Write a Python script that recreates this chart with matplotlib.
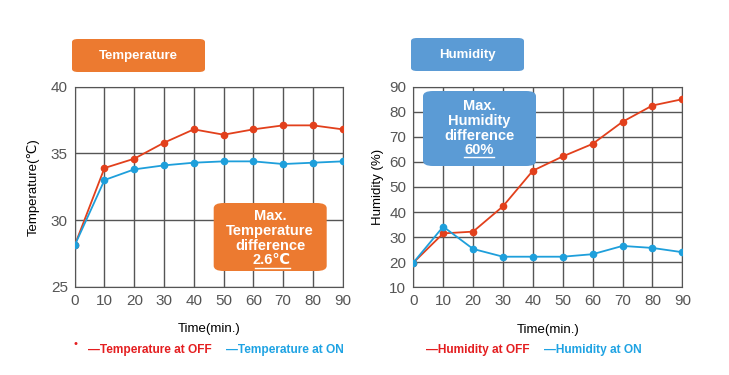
import matplotlib.pyplot as plt
from matplotlib.patches import FancyBboxPatch

plt.rcParams['font.family'] = ['Liberation Sans', 'DejaVu Sans']

# data
time_min = [0, 10, 20, 30, 40, 50, 60, 70, 80, 90]
temp_off = [28.1, 33.9, 34.6, 35.8, 36.8, 36.4, 36.8, 37.1, 37.1, 36.8]
temp_on = [28.1, 33.0, 33.8, 34.1, 34.3, 34.4, 34.4, 34.2, 34.3, 34.4]
hum_off = [19.8, 31.5, 32.2, 42.3, 56.5, 62.2, 67.2, 76.0, 82.5, 85.0]
hum_on = [19.8, 34.2, 25.3, 22.2, 22.2, 22.2, 23.2, 26.5, 25.7, 24.0]

RED = '#e2401c'
BLUE = '#1e9fdb'
LEG_RED = '#e41e20'
LEG_BLUE = '#1fa3e3'
ORANGE = '#ec7a30'
SKY = '#5b9bd5'
W, H = 729, 375

fig = plt.figure(figsize=(W / 100, H / 100), dpi=100)


def px_axes(x0, y0, x1, y1):
    return fig.add_axes([x0 / W, 1 - y1 / H, (x1 - x0) / W, (y1 - y0) / H])


def box(x0, y0, x1, y1, color, pad=6):
    p = FancyBboxPatch((x0 / W, 1 - y1 / H), (x1 - x0) / W, (y1 - y0) / H,
                       boxstyle=f"round,pad=0,rounding_size={pad / W}",
                       transform=fig.transFigure, facecolor=color,
                       edgecolor='none', zorder=5)
    fig.add_artist(p)


def ftext(x, y, s, **kw):
    return fig.text(x / W, 1 - y / H, s, **kw)


def hline(x0, x1, y):
    fig.add_artist(plt.Line2D([x0 / W, x1 / W], [1 - y / H, 1 - y / H],
                              color='white', lw=1, transform=fig.transFigure, zorder=6))


def style(ax, ylim, yticks):
    ax.set_xlim(0, 90)
    ax.set_ylim(*ylim)
    ax.set_xticks(time_min)
    ax.set_yticks(yticks)
    ax.grid(True, color='#555555', linewidth=1.0)
    ax.set_axisbelow(True)
    for s in ax.spines.values():
        s.set_color('#555555')
    ax.tick_params(length=0, labelsize=11, colors='#555555', pad=5)
    ax.set_xlabel('Time(min.)', fontsize=9.5, labelpad=11)


# temperature panel
ax1 = px_axes(74.7, 86.7, 342.7, 286.7)
ax1.plot(time_min, temp_off, color=RED, lw=1.3, marker='o', ms=4.5, zorder=3)
ax1.plot(time_min, temp_on, color=BLUE, lw=1.3, marker='o', ms=4.5, zorder=3)
style(ax1, (25, 40), [25, 30, 35, 40])
ax1.set_ylabel('Temperature(℃)', fontsize=9.5, labelpad=8)

# humidity panel
ax2 = px_axes(413.3, 86.7, 682.3, 287.3)
ax2.plot(time_min, hum_off, color=RED, lw=1.3, marker='o', ms=4.5, zorder=3)
ax2.plot(time_min, hum_on, color=BLUE, lw=1.3, marker='o', ms=4.5, zorder=3)
style(ax2, (10, 90), list(range(10, 91, 10)))
ax2.set_ylabel('Humidity (%)', fontsize=9.5, labelpad=4)

# header boxes
box(72, 39, 205, 72, ORANGE)
ftext(138.5, 55.5, 'Temperature', color='white', fontsize=9.5,
      fontweight='bold', ha='center', va='center', zorder=6)
box(411, 38, 524, 71, SKY)
ftext(467.5, 55, 'Humidity', color='white', fontsize=9.5,
      fontweight='bold', ha='center', va='center', zorder=6)

# note boxes
box(213.7, 203, 326.7, 271, ORANGE, pad=10)
ftext(270, 231, 'Max.\nTemperature\ndifference', color='white',
      fontsize=10.5, fontweight='bold', ha='center', va='center',
      linespacing=1.08, zorder=6)
ftext(272, 260, '2.6℃', color='white', fontsize=10.5,
      fontweight='bold', ha='center', va='center', zorder=6)
hline(255, 290, 267.5)

box(423, 91, 536, 166, SKY, pad=10)
ftext(479.5, 121, 'Max.\nHumidity\ndifference', color='white',
      fontsize=10.5, fontweight='bold', ha='center', va='center',
      linespacing=1.08, zorder=6)
ftext(479.5, 149.5, '60%', color='white', fontsize=10.5,
      fontweight='bold', ha='center', va='center', zorder=6)
hline(464, 494, 156.5)

# legends
ly = 349.5
ftext(76, 344, '•', color=LEG_RED, fontsize=8, ha='center', va='center')
ftext(88, ly, '—Temperature at OFF', color=LEG_RED, fontsize=8.6,
      fontweight='bold', va='center')
ftext(226, ly, '—Temperature at ON', color=LEG_BLUE, fontsize=8.6,
      fontweight='bold', va='center')
ftext(426, ly, '—Humidity at OFF', color=LEG_RED, fontsize=8.6,
      fontweight='bold', va='center')
ftext(544, ly, '—Humidity at ON', color=LEG_BLUE, fontsize=8.6,
      fontweight='bold', va='center')

fig.savefig('out.png', dpi=100)
